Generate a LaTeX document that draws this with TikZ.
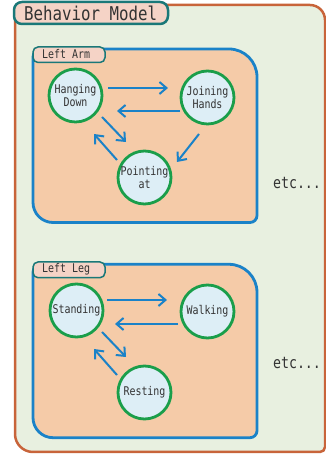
\documentclass[tikz,border=0pt]{standalone}
\usepackage{fontspec}
\usetikzlibrary{arrows.meta,calc}
\newfontfamily\monofam[FakeStretch=0.83]{DejaVu Sans Mono}
\definecolor{outerline}{HTML}{C8643A}
\definecolor{outerfill}{HTML}{E8F0E0}
\definecolor{tabfill}{HTML}{F5D3C6}
\definecolor{tabline}{HTML}{1A7878}
\definecolor{boxline}{HTML}{1A82C8}
\definecolor{boxfill}{HTML}{F5CBA8}
\definecolor{circline}{HTML}{1A9E4A}
\definecolor{circfill}{HTML}{DDEEF6}
\definecolor{txt}{HTML}{333333}
\begin{document}
\begin{tikzpicture}[x=1pt,y=1pt,
  outerbox/.style={draw=outerline,fill=outerfill,line width=2.5pt},
  groupbox/.style={draw=boxline,fill=boxfill,line width=2.8pt},
  titletab/.style={draw=tabline,fill=tabfill,line width=2.5pt,rounded corners=8pt},
  smalltab/.style={draw=tabline,fill=tabfill,line width=1.5pt,rounded corners=5pt},
  state/.style={circle,draw=circline,fill=circfill,line width=2.8pt,minimum size=53pt,inner sep=0pt,
    align=center,font=\monofam\fontsize{12}{12.5}\selectfont,text=txt},
  arr/.style={draw=boxline,line width=2pt,-{Straight Barb[length=7pt,width=12pt,line width=2pt]}},
  etctext/.style={font=\monofam\fontsize{16}{16}\selectfont,text=txt},
  tabtext/.style={font=\monofam\fontsize{12}{12}\selectfont,text=txt,anchor=west,inner sep=0pt}]
\useasboundingbox (0,0) rectangle (326,457);
% outer box
\path[outerbox] (15+10,452) -- (325-15,452) arc[start angle=90,end angle=0,radius=15]
  -- (325,5+5) arc[start angle=0,end angle=-90,radius=5]
  -- (15+18,5) arc[start angle=270,end angle=180,radius=18]
  -- (15,452-10) arc[start angle=180,end angle=90,radius=10] -- cycle;
% title tab
\draw[titletab] (14,433) rectangle (168,455);
\node[anchor=west,inner sep=0pt,font=\monofam\fontsize{19}{19}\selectfont,text=txt] (title) at (24,444) {Behavior Model};
% left arm box
\path[groupbox] (33+8,408) -- (257-28,408) arc[start angle=90,end angle=0,radius=28]
  -- (257,234.5+7) arc[start angle=0,end angle=-90,radius=7]
  -- (33+20,234.5) arc[start angle=270,end angle=180,radius=20]
  -- (33,408-8) arc[start angle=180,end angle=90,radius=8] -- cycle;
\draw[smalltab] (33,394.5) rectangle (105,410);
\node[tabtext] (armlabel) at (42,402.5) {Left Arm};
% left leg box
\path[groupbox] (33+8,192.7) -- (257-28,192.7) arc[start angle=90,end angle=0,radius=28]
  -- (257,19.3+7) arc[start angle=0,end angle=-90,radius=7]
  -- (33+20,19.3) arc[start angle=270,end angle=180,radius=20]
  -- (33,192.7-8) arc[start angle=180,end angle=90,radius=8] -- cycle;
\draw[smalltab] (33,179.3) rectangle (105,195);
\node[tabtext] (leglabel) at (42,187.3) {Left Leg};
% states arm
\node[state] (hang) at (75.5,361.5) {Hanging\\Down};
\node[state] (join) at (207.5,359.5) {Joining\\Hands};
\node[state] (point) at (144.5,279.5) {Pointing\\ at};
% states leg
\node[state] (stand) at (76.5,146.5) {Standing};
\node[state] (walk) at (207.5,145.5) {Walking};
\node[state] (rest) at (144.5,64.5) {Resting};
% arrows arm
\draw[arr] ($(hang.center)+(32.5,7.5)$) -- ($(join.center)+(-39.5,9.5)$);
\draw[arr] ($(join.center)+(-27.5,-13.5)$) -- ($(hang.center)+(41.5,-15.5)$);
\draw[arr] ($(hang.center)+(26.5,-21.5)$) -- ($(point.center)+(-18.5,35.5)$);
\draw[arr] ($(point.center)+(-27.5,17.5)$) -- ($(hang.center)+(18.5,-38.5)$);
\draw[arr] ($(join.center)+(-8.5,-36.5)$) -- ($(point.center)+(32.5,15.5)$);
% arrows leg
\draw[arr] ($(stand.center)+(30.5,10.5)$) -- ($(walk.center)+(-40.5,11.5)$);
\draw[arr] ($(walk.center)+(-29.5,-12.5)$) -- ($(stand.center)+(38.5,-13.5)$);
\draw[arr] ($(stand.center)+(25.5,-21.5)$) -- ($(rest.center)+(-18.5,35.5)$);
\draw[arr] ($(rest.center)+(-27.5,17.5)$) -- ($(stand.center)+(17.5,-38.5)$);
% etc
\node[etctext] (etcarm) at (297,274) {etc...};
\node[etctext] (etcleg) at (297,94) {etc...};
\end{tikzpicture}
\end{document}
